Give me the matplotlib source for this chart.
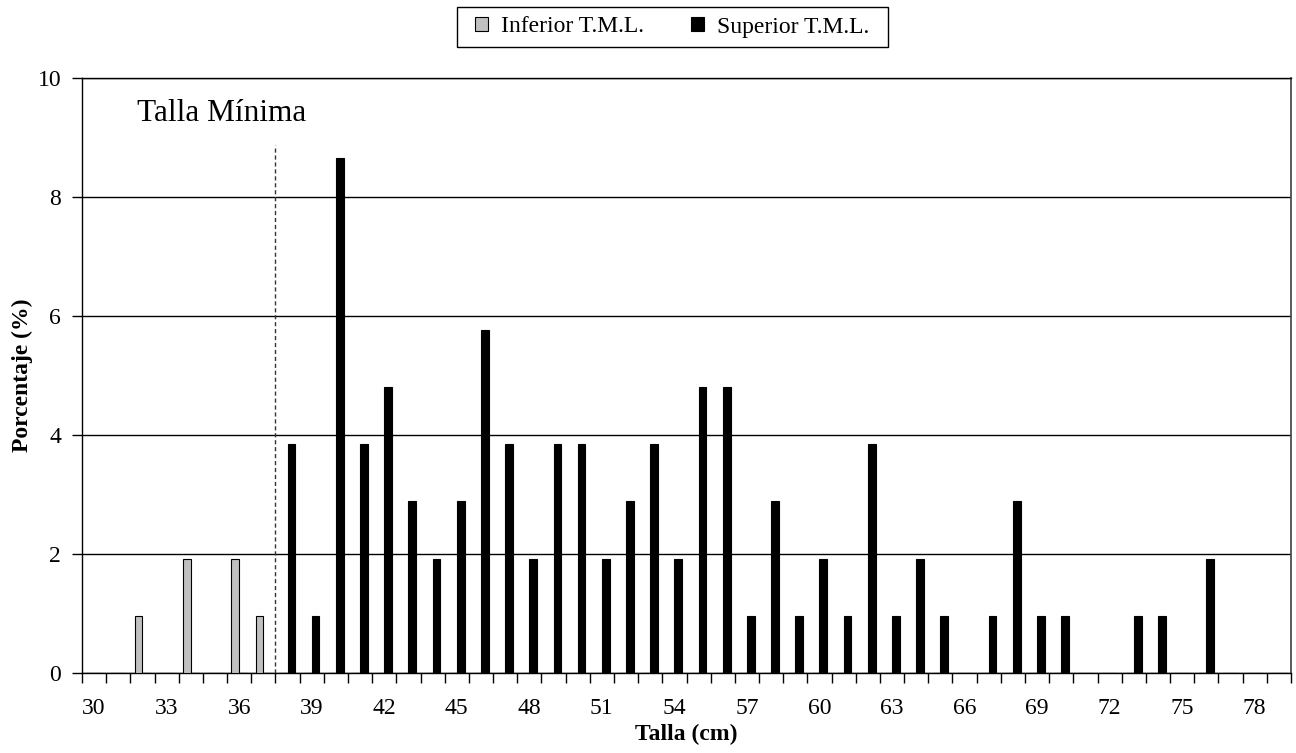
import matplotlib
matplotlib.use("Agg")
import matplotlib.pyplot as plt
from matplotlib.patches import Patch, Rectangle
from matplotlib.ticker import MultipleLocator, FixedLocator

# Talla (cm) categories and percentage per class
tallas = list(range(30, 80))
inferior = {32: 0.96, 34: 1.92, 36: 1.92, 37: 0.96}
superior = {38: 3.85, 39: 0.96, 40: 8.65, 41: 3.85, 42: 4.81, 43: 2.88,
            44: 1.92, 45: 2.88, 46: 5.77, 47: 3.85, 48: 1.92, 49: 3.85,
            50: 3.85, 51: 1.92, 52: 2.88, 53: 3.85, 54: 1.92, 55: 4.81,
            56: 4.81, 57: 0.96, 58: 2.88, 59: 0.96, 60: 1.92, 61: 0.96,
            62: 3.85, 63: 0.96, 64: 1.92, 65: 0.96, 67: 0.96, 68: 2.88,
            69: 0.96, 70: 0.96, 73: 0.96, 74: 0.96, 76: 1.92}
inf_vals = [inferior.get(t, 0) for t in tallas]
sup_vals = [superior.get(t, 0) for t in tallas]
tick_labels = list(range(30, 79, 3))
talla_minima = 37.5

W, H = 1296, 753
plt.rcParams.update({"font.family": ["Liberation Serif", "DejaVu Serif"]})
fig = plt.figure(figsize=(W / 100, H / 100), dpi=100, facecolor="white")
ax = fig.add_axes([82 / W, 1 - 672.7 / H, (1291 - 82) / W, (672.7 - 78) / H])

w = 0.32
ax.bar([t - w / 2 for t in tallas], inf_vals, width=w, color="#c0c0c0",
       edgecolor="black", lw=0.8, zorder=3)
ax.bar([t + w / 2 for t in tallas], sup_vals, width=w, color="black",
       edgecolor="black", lw=0.8, zorder=3)

ax.set_xlim(29.5, 79.5)
ax.set_ylim(0, 10)
ax.yaxis.set_major_locator(MultipleLocator(2))
ax.yaxis.grid(True, color="black", lw=1, zorder=0)
ax.set_axisbelow(True)

ax.xaxis.set_major_locator(FixedLocator(tick_labels))
ax.set_xticklabels([str(t) for t in tick_labels])
ax.xaxis.set_minor_locator(FixedLocator([t - 0.5 for t in tallas] + [79.5]))
ax.tick_params(axis="x", which="major", length=0, pad=18.5, labelsize=17)
ax.tick_params(axis="x", which="minor", length=7, width=1, direction="out")
ax.tick_params(axis="y", length=7, width=1, pad=8, labelsize=17)

for s in ["left", "bottom", "top"]:
    ax.spines[s].set_color("black")
    ax.spines[s].set_linewidth(1)
ax.spines["right"].set_color("#404040")
ax.spines["right"].set_linewidth(1.2)

ax.axvline(talla_minima, ymin=0, ymax=0.887, color="#333333", lw=1,
           ls=(0, (3, 2)), zorder=4)
ax.text(31.77, 9.27, "Talla Mínima", fontsize=22.5, ha="left", va="baseline")

ax.set_xlabel("Talla (cm)", fontsize=17, fontweight="bold", labelpad=3)
ax.set_ylabel("Porcentaje (%)", fontsize=17, fontweight="bold", labelpad=3)

# legend box drawn by hand so its padding matches
fig.patches.append(Rectangle((457 / W, 1 - 47 / H), (888 - 457) / W, 40 / H,
                             transform=fig.transFigure, facecolor="white",
                             edgecolor="black", lw=1))
handles = [Patch(facecolor="#c0c0c0", edgecolor="black", lw=0.8, label="Inferior T.M.L."),
           Patch(facecolor="black", edgecolor="black", lw=0.8, label="Superior T.M.L.")]
fig.legend(handles=handles, loc="center", bbox_to_anchor=(672 / W, 1 - 27 / H),
           ncol=2, fontsize=17, frameon=False,
           handlelength=0.55, handleheight=0.55, handletextpad=0.55,
           columnspacing=2.0, borderpad=0, borderaxespad=0)

fig.savefig("out.png", dpi=100, facecolor="white")
